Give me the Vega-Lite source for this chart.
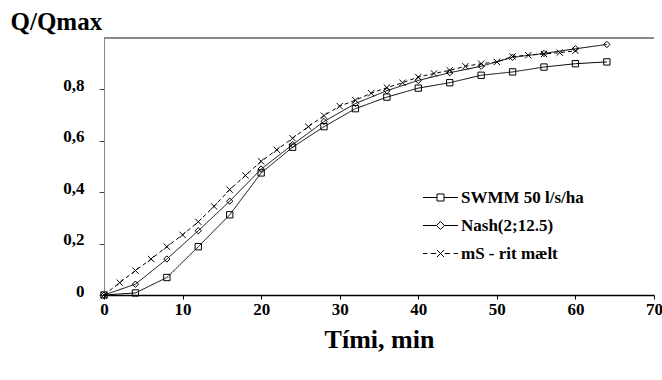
{
  "$schema": "https://vega.github.io/schema/vega-lite/v6.json",
  "width": 550,
  "height": 257,
  "autosize": {"type": "none"},
  "padding": {"left": 104, "top": 38, "right": 8, "bottom": 85},
  "background": "white",
  "config": {"view": {"stroke": null}, "font": "Liberation Serif"},
  "data": {
    "values": [
      {"series": "SWMM 50 l/s/ha", "t": 0, "v": 0},
      {"series": "SWMM 50 l/s/ha", "t": 4, "v": 0.008},
      {"series": "SWMM 50 l/s/ha", "t": 8, "v": 0.068},
      {"series": "SWMM 50 l/s/ha", "t": 12, "v": 0.188},
      {"series": "SWMM 50 l/s/ha", "t": 16, "v": 0.312},
      {"series": "SWMM 50 l/s/ha", "t": 20, "v": 0.475},
      {"series": "SWMM 50 l/s/ha", "t": 24, "v": 0.575},
      {"series": "SWMM 50 l/s/ha", "t": 28, "v": 0.655},
      {"series": "SWMM 50 l/s/ha", "t": 32, "v": 0.725},
      {"series": "SWMM 50 l/s/ha", "t": 36, "v": 0.77},
      {"series": "SWMM 50 l/s/ha", "t": 40, "v": 0.805},
      {"series": "SWMM 50 l/s/ha", "t": 44, "v": 0.826},
      {"series": "SWMM 50 l/s/ha", "t": 48, "v": 0.855},
      {"series": "SWMM 50 l/s/ha", "t": 52, "v": 0.868},
      {"series": "SWMM 50 l/s/ha", "t": 56, "v": 0.887},
      {"series": "SWMM 50 l/s/ha", "t": 60, "v": 0.9},
      {"series": "SWMM 50 l/s/ha", "t": 64, "v": 0.907},
      {"series": "Nash(2;12.5)", "t": 0, "v": 0},
      {"series": "Nash(2;12.5)", "t": 4, "v": 0.042},
      {"series": "Nash(2;12.5)", "t": 8, "v": 0.14},
      {"series": "Nash(2;12.5)", "t": 12, "v": 0.25},
      {"series": "Nash(2;12.5)", "t": 16, "v": 0.365},
      {"series": "Nash(2;12.5)", "t": 20, "v": 0.49},
      {"series": "Nash(2;12.5)", "t": 24, "v": 0.585},
      {"series": "Nash(2;12.5)", "t": 28, "v": 0.675},
      {"series": "Nash(2;12.5)", "t": 32, "v": 0.745},
      {"series": "Nash(2;12.5)", "t": 36, "v": 0.795},
      {"series": "Nash(2;12.5)", "t": 40, "v": 0.835},
      {"series": "Nash(2;12.5)", "t": 44, "v": 0.865},
      {"series": "Nash(2;12.5)", "t": 48, "v": 0.89},
      {"series": "Nash(2;12.5)", "t": 52, "v": 0.925},
      {"series": "Nash(2;12.5)", "t": 56, "v": 0.94},
      {"series": "Nash(2;12.5)", "t": 60, "v": 0.958},
      {"series": "Nash(2;12.5)", "t": 64, "v": 0.975},
      {"series": "mS - rit mælt", "t": 0, "v": 0},
      {"series": "mS - rit mælt", "t": 2, "v": 0.048},
      {"series": "mS - rit mælt", "t": 4, "v": 0.095},
      {"series": "mS - rit mælt", "t": 6, "v": 0.14},
      {"series": "mS - rit mælt", "t": 8, "v": 0.188},
      {"series": "mS - rit mælt", "t": 10, "v": 0.234},
      {"series": "mS - rit mælt", "t": 12, "v": 0.285},
      {"series": "mS - rit mælt", "t": 14, "v": 0.345},
      {"series": "mS - rit mælt", "t": 16, "v": 0.41},
      {"series": "mS - rit mælt", "t": 18, "v": 0.465},
      {"series": "mS - rit mælt", "t": 20, "v": 0.52},
      {"series": "mS - rit mælt", "t": 22, "v": 0.565},
      {"series": "mS - rit mælt", "t": 24, "v": 0.61},
      {"series": "mS - rit mælt", "t": 26, "v": 0.655},
      {"series": "mS - rit mælt", "t": 28, "v": 0.698},
      {"series": "mS - rit mælt", "t": 30, "v": 0.735},
      {"series": "mS - rit mælt", "t": 32, "v": 0.758},
      {"series": "mS - rit mælt", "t": 34, "v": 0.785},
      {"series": "mS - rit mælt", "t": 36, "v": 0.807},
      {"series": "mS - rit mælt", "t": 38, "v": 0.826},
      {"series": "mS - rit mælt", "t": 40, "v": 0.848},
      {"series": "mS - rit mælt", "t": 42, "v": 0.862},
      {"series": "mS - rit mælt", "t": 44, "v": 0.874},
      {"series": "mS - rit mælt", "t": 46, "v": 0.89},
      {"series": "mS - rit mælt", "t": 48, "v": 0.9},
      {"series": "mS - rit mælt", "t": 50, "v": 0.907},
      {"series": "mS - rit mælt", "t": 52, "v": 0.928},
      {"series": "mS - rit mælt", "t": 54, "v": 0.933},
      {"series": "mS - rit mælt", "t": 56, "v": 0.938},
      {"series": "mS - rit mælt", "t": 58, "v": 0.943},
      {"series": "mS - rit mælt", "t": 60, "v": 0.95}
    ]
  },
  "resolve": {"scale": {"shape": "independent"}},
  "layer": [
    {
      "mark": {"type": "rule", "color": "#888888", "strokeWidth": 1},
      "encoding": {"y": {"datum": 1, "type": "quantitative"}}
    },
    {
      "mark": {"type": "line", "color": "black", "strokeWidth": 1},
      "encoding": {
        "x": {
          "field": "t", "type": "quantitative",
          "scale": {"domain": [0, 70], "nice": false, "zero": true},
          "axis": {
            "values": [0, 10, 20, 30, 40, 50, 60, 70],
            "title": "Tími, min",
            "titleFont": "Liberation Serif", "titleFontSize": 26, "titleFontWeight": "bold", "titleColor": "black",
            "titlePadding": 9,
            "labelFont": "Liberation Serif", "labelFontSize": 17, "labelFontWeight": "bold", "labelColor": "black",
            "labelPadding": 2, "labelFlush": false,
            "domainColor": "black", "domainWidth": 1.5,
            "tickColor": "black", "tickSize": 4,
            "grid": false
          }
        },
        "y": {
          "field": "v", "type": "quantitative",
          "scale": {"domain": [0, 1], "nice": false},
          "axis": {
            "values": [0, 0.2, 0.4, 0.6, 0.8],
            "labelExpr": "datum.value == 0 ? '0' : replace(format(datum.value, '.1f'), '.', ',')",
            "title": "Q/Qmax",
            "titleAngle": 0, "titleX": -94, "titleY": -9,
            "titleAlign": "left", "titleBaseline": "alphabetic",
            "titleFont": "Liberation Serif", "titleFontSize": 25, "titleFontWeight": "bold", "titleColor": "black",
            "labelFont": "Liberation Serif", "labelFontSize": 17, "labelFontWeight": "bold", "labelColor": "black",
            "labelPadding": 15, "labelOffset": -4,
            "domainColor": "#888888", "domainWidth": 1,
            "tickColor": "#444444", "tickSize": 5,
            "grid": false
          }
        },
        "detail": {"field": "series"},
        "strokeDash": {
          "field": "series", "type": "nominal",
          "scale": {"domain": ["SWMM 50 l/s/ha", "Nash(2;12.5)", "mS - rit mælt"], "range": [[1, 0], [1, 0], [4, 3]]},
          "legend": null
        }
      }
    },
    {
      "mark": {"type": "point", "filled": false, "color": "black", "strokeWidth": 1, "opacity": 1},
      "encoding": {
        "x": {"field": "t", "type": "quantitative"},
        "y": {"field": "v", "type": "quantitative"},
        "size": {"value": 40},
        "shape": {
          "field": "series", "type": "nominal",
          "scale": {
            "domain": ["SWMM 50 l/s/ha", "Nash(2;12.5)", "mS - rit mælt"],
            "range": ["square", "diamond", "M-1,-1L1,1M-1,1L1,-1"]
          },
          "legend": null
        }
      }
    },
    {
      "mark": {"type": "point", "filled": false, "color": "black", "strokeWidth": 1, "opacity": 0},
      "encoding": {
        "x": {"field": "t", "type": "quantitative"},
        "y": {"field": "v", "type": "quantitative"},
        "shape": {
          "field": "series", "type": "nominal",
          "scale": {
            "domain": ["SWMM 50 l/s/ha", "Nash(2;12.5)", "mS - rit mælt"],
            "range": [
              "M-2,0H-0.4M0.4,0H2M-0.4,-0.4H0.4V0.4H-0.4Z",
              "M-2,0H-0.45M0.45,0H2M-0.45,0L0,-0.45L0.45,0L0,0.45Z",
              "M-2,0H-1.5M-1.1,0H-0.5M0.5,0H1.1M1.5,0H2M-0.4,-0.4L0.4,0.4M-0.4,0.4L0.4,-0.4"
            ]
          },
          "legend": {
            "orient": "none", "legendX": 327, "legendY": 150,
            "title": null, "padding": 0,
            "labelFont": "Liberation Serif", "labelFontSize": 17, "labelFontWeight": "bold", "labelColor": "black",
            "labelOffset": 11, "rowPadding": 10,
            "symbolSize": 306, "symbolStrokeWidth": 1, "symbolStrokeColor": "black",
            "symbolFillColor": "transparent", "symbolOpacity": 1
          }
        }
      }
    }
  ]
}
